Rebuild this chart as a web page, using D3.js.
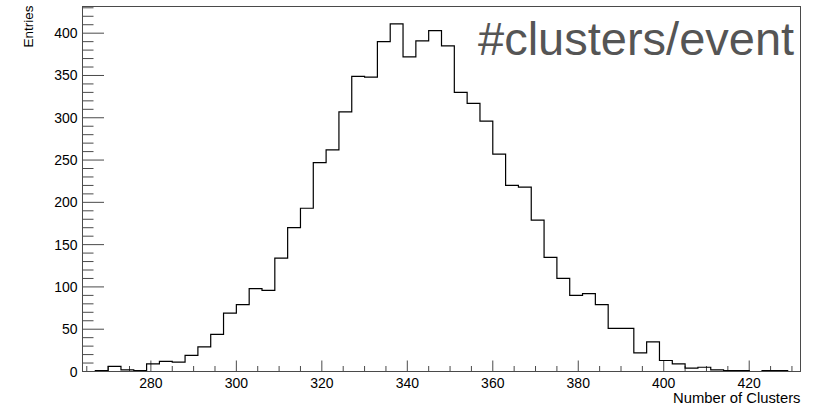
<!DOCTYPE html>
<html>
<head>
<meta charset="utf-8">
<script src="https://cdn.jsdelivr.net/npm/d3@7"></script>
<style>
  html, body { margin: 0; padding: 0; background: #fff; }
  svg { display: block; }
  text { font-family: "Liberation Sans", Arial, Helvetica, sans-serif; }
</style>
</head>
<body>
<svg id="chart" width="819" height="408"></svg>
<script>
// ---- data ----
const binLow = [264, 267, 270, 273, 276, 279, 282, 285, 288, 291, 294, 297, 300, 303,
                306, 309, 312, 315, 318, 321, 324, 327, 330, 333, 336, 339, 342, 345,
                348, 351, 354, 357, 360, 363, 366, 369, 372, 375, 378, 381, 384, 387,
                390, 393, 396, 399, 402, 405, 408, 411, 414, 417, 420, 423, 426, 429];
const binWidth = 3;
const counts = [0, 1, 6, 2, 1, 9, 12, 11, 19, 29, 44, 69, 79, 98,
                96, 134, 170, 193, 247, 262, 307, 349, 348, 390, 411, 372, 391, 403,
                385, 330, 317, 296, 257, 220, 218, 179, 135, 110, 90, 92, 79, 51,
                51, 22, 35, 13, 9, 4, 5, 2, 1, 1, 0, 1, 1, 0];
const xTickLabels = [280, 300, 320, 340, 360, 380, 400, 420];
const yTickLabels = [0, 50, 100, 150, 200, 250, 300, 350, 400];
const xMinorStep = 5;
const yMinorStep = 10;
const titleText = "#clusters/event";
const xTitle = "Number of Clusters";
const yTitle = "Entries";

(function () {
// ---- layout ----
const svg = d3.select("#chart");
const padL = 82.5, padR = 800.5, padT = 6.5, padB = 371.5;
const xMin = binLow[0], xMax = binLow[binLow.length - 1] + binWidth;
const yMax = d3.max(counts) * 1.05;

const x = d3.scaleLinear().domain([xMin, xMax]).range([padL, padR]);
const y = d3.scaleLinear().domain([0, yMax]).range([padB, padT]);

const frameColor = "#4a4a4a";

// ticks (ROOT-style, inside the frame)
const xMajLen = 11, xMinLen = 5.5, yMajLen = 21.5, yMinLen = 11;
const xMinor = d3.range(Math.ceil(xMin / xMinorStep) * xMinorStep, xMax + 0.001, xMinorStep);
const yMinor = d3.range(0, yMax, yMinorStep);

const g = svg.append("g");

g.selectAll("line.xt").data(xMinor).enter().append("line")
  .attr("x1", d => x(d)).attr("x2", d => x(d))
  .attr("y1", padB)
  .attr("y2", d => padB - (xTickLabels.includes(d) ? xMajLen : xMinLen))
  .attr("stroke", frameColor).attr("stroke-width", 1);

g.selectAll("line.yt").data(yMinor).enter().append("line")
  .attr("y1", d => y(d)).attr("y2", d => y(d))
  .attr("x1", padL)
  .attr("x2", d => padL + (yTickLabels.includes(d) ? yMajLen : yMinLen))
  .attr("stroke", frameColor).attr("stroke-width", 1);

// histogram step outline
const pts = [];
pts.push([x(binLow[0]), y(0)]);
binLow.forEach((lo, i) => {
  pts.push([x(lo), y(counts[i])]);
  pts.push([x(lo + binWidth), y(counts[i])]);
});
pts.push([x(xMax), y(0)]);
g.append("path")
  .attr("d", d3.line()(pts))
  .attr("fill", "none")
  .attr("stroke", "#000")
  .attr("stroke-width", 1.2);

// frame
g.append("rect")
  .attr("x", padL).attr("y", padT)
  .attr("width", padR - padL).attr("height", padB - padT)
  .attr("fill", "none").attr("stroke", frameColor).attr("stroke-width", 1);

// tick labels
g.selectAll("text.xl").data(xTickLabels).enter().append("text")
  .attr("x", d => x(d)).attr("y", 387.5)
  .attr("text-anchor", "middle")
  .attr("font-size", 14).attr("fill", "#000")
  .text(d => d);

g.selectAll("text.yl").data(yTickLabels).enter().append("text")
  .attr("x", 77.5).attr("y", d => y(d) + 5)
  .attr("text-anchor", "end")
  .attr("font-size", 14).attr("fill", "#000")
  .text(d => d);

// axis titles
g.append("text")
  .attr("x", padR).attr("y", 403)
  .attr("text-anchor", "end")
  .attr("font-size", 14.8).attr("fill", "#000")
  .text(xTitle);

g.append("text")
  .attr("transform", `translate(33,${padT - 1}) rotate(-90)`)
  .attr("text-anchor", "end")
  .attr("font-size", 13.5).attr("fill", "#000")
  .text(yTitle);

// histogram title
g.append("text")
  .attr("x", 478).attr("y", 55)
  .attr("font-size", 47).attr("fill", "#555")
  .text(titleText);
})();
</script>
</body>
</html>
